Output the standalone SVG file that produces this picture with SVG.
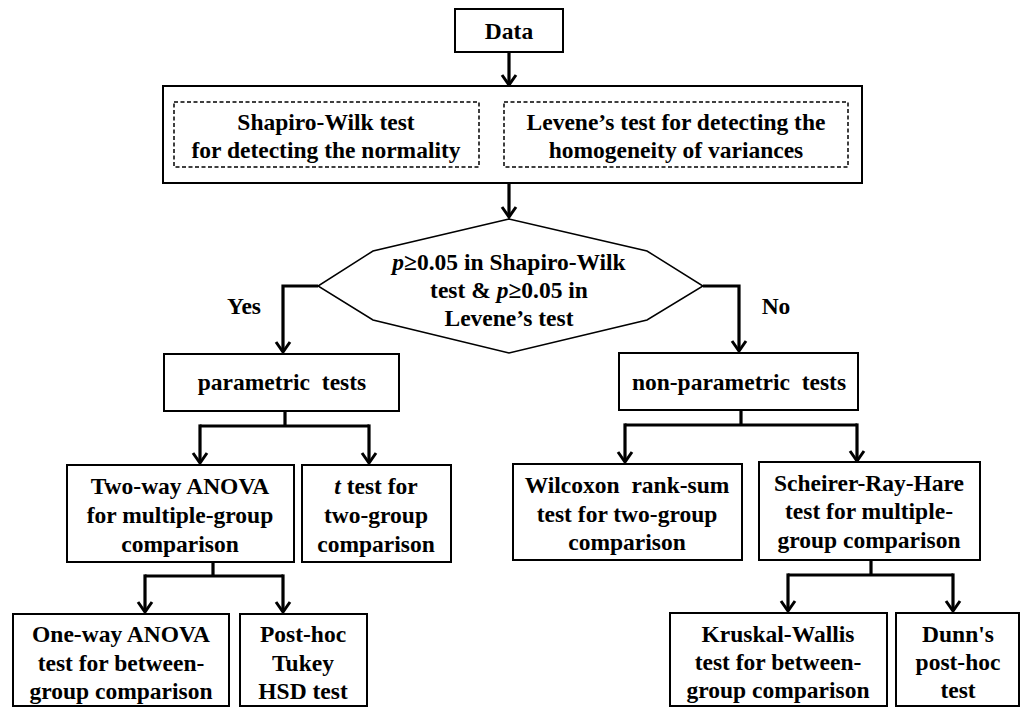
<svg xmlns="http://www.w3.org/2000/svg" width="1021" height="710" viewBox="0 0 1021 710">
<style>
text{font-family:"Liberation Serif","Times New Roman",serif;font-weight:bold;font-size:23.5px;fill:#000;text-anchor:middle}
.ws{word-spacing:6px}
.box{fill:#fff;stroke:#000;stroke-width:2}
.dash{fill:none;stroke:#000;stroke-width:1.5;stroke-dasharray:4 2.5}
.con{fill:none;stroke:#000;stroke-width:3.2}
.arr{marker-end:url(#ah)}
</style>
<defs>
<marker id="ah" viewBox="-12 -9 14 18" markerWidth="14" markerHeight="18" refX="0" refY="0" orient="auto" markerUnits="userSpaceOnUse">
<path d="M-10,-7 L0,0 L-10,7" fill="none" stroke="#000" stroke-width="3"/>
</marker>
</defs>
<rect width="1021" height="710" fill="#fff"/>
<g id="connectors">
<path class="con arr" d="M509,52 V85"/>
<path class="con arr" d="M509,184 V217"/>
<path class="con arr" d="M318,286 H283 V352"/>
<path class="con arr" d="M703,286 H739 V351"/>
<path class="con" d="M285,411 V426"/>
<path class="con" d="M200,426 H369"/>
<path class="con arr" d="M200,424.4 V463"/>
<path class="con arr" d="M369,424.4 V463"/>
<path class="con" d="M741,410 V425"/>
<path class="con" d="M625,425 H857"/>
<path class="con arr" d="M625,423.4 V462"/>
<path class="con arr" d="M857,423.4 V461"/>
<path class="con" d="M213,562 V576"/>
<path class="con" d="M145,576 H283"/>
<path class="con arr" d="M145,574.4 V612"/>
<path class="con arr" d="M283,574.4 V612"/>
<path class="con" d="M871,560 V575"/>
<path class="con" d="M788,575 H953"/>
<path class="con arr" d="M788,573.4 V611"/>
<path class="con arr" d="M953,573.4 V611"/>
</g>
<g id="data">
<rect class="box" x="455" y="9" width="108" height="43"/>
<text x="509" y="39">Data</text>
</g>
<g id="checks">
<rect class="box" x="163" y="86" width="699" height="97"/>
<g id="shapiro">
<rect class="dash" x="174" y="102" width="305" height="65"/>
<text x="326" y="130">Shapiro-Wilk test</text>
<text x="326" y="158">for detecting the normality</text>
</g>
<g id="levene">
<rect class="dash" x="504" y="102" width="344" height="65"/>
<text x="676" y="130">Levene’s test for detecting the</text>
<text x="676" y="158">homogeneity of variances</text>
</g>
</g>
<g id="decision">
<polygon points="509,219 373,251 318,286 373,320 509,353 647,320 703,286 647,251" fill="#fff" stroke="#000" stroke-width="1.5"/>
<text x="509" y="270"><tspan font-style="italic">p</tspan>≥0.05 in Shapiro-Wilk</text>
<text x="509" y="298">test &amp; <tspan font-style="italic">p</tspan>≥0.05 in</text>
<text x="509" y="326">Levene’s test</text>
</g>
<g id="label-yes"><text x="244" y="314">Yes</text></g>
<g id="label-no"><text x="776" y="314">No</text></g>
<g id="parametric">
<rect class="box" x="164" y="354" width="235" height="57"/>
<text class="ws" x="282" y="390">parametric tests</text>
</g>
<g id="nonparametric">
<rect class="box" x="619" y="353" width="239" height="57"/>
<text class="ws" x="739" y="390">non-parametric tests</text>
</g>
<g id="twoway">
<rect class="box" x="67" y="465" width="227" height="97"/>
<text x="180" y="494">Two-way ANOVA</text>
<text x="180" y="523">for multiple-group</text>
<text x="180" y="552">comparison</text>
</g>
<g id="ttest">
<rect class="box" x="302" y="465" width="149" height="97"/>
<text x="376" y="494"><tspan font-style="italic">t</tspan> test for</text>
<text x="376" y="523">two-group</text>
<text x="376" y="552">comparison</text>
</g>
<g id="wilcoxon">
<rect class="box" x="513" y="464" width="229" height="96"/>
<text class="ws" x="627" y="493">Wilcoxon rank-sum</text>
<text x="627" y="522">test for two-group</text>
<text x="627" y="550">comparison</text>
</g>
<g id="scheirer">
<rect class="box" x="759" y="462" width="221" height="98"/>
<text x="869" y="491">Scheirer-Ray-Hare</text>
<text x="869" y="519">test for multiple-</text>
<text x="869" y="548">group comparison</text>
</g>
<g id="oneway">
<rect class="box" x="13" y="614" width="216" height="92"/>
<text x="121" y="642">One-way ANOVA</text>
<text x="121" y="671">test for between-</text>
<text x="121" y="699">group comparison</text>
</g>
<g id="tukey">
<rect class="box" x="240" y="614" width="127" height="92"/>
<text x="303" y="642">Post-hoc</text>
<text x="303" y="671">Tukey</text>
<text x="303" y="699">HSD test</text>
</g>
<g id="kruskal">
<rect class="box" x="670" y="613" width="217" height="93"/>
<text x="778" y="642">Kruskal-Wallis</text>
<text x="778" y="670">test for between-</text>
<text x="778" y="698">group comparison</text>
</g>
<g id="dunn">
<rect class="box" x="896" y="613" width="123" height="93"/>
<text x="958" y="642">Dunn's</text>
<text x="958" y="670">post-hoc</text>
<text x="958" y="698">test</text>
</g>
</svg>
